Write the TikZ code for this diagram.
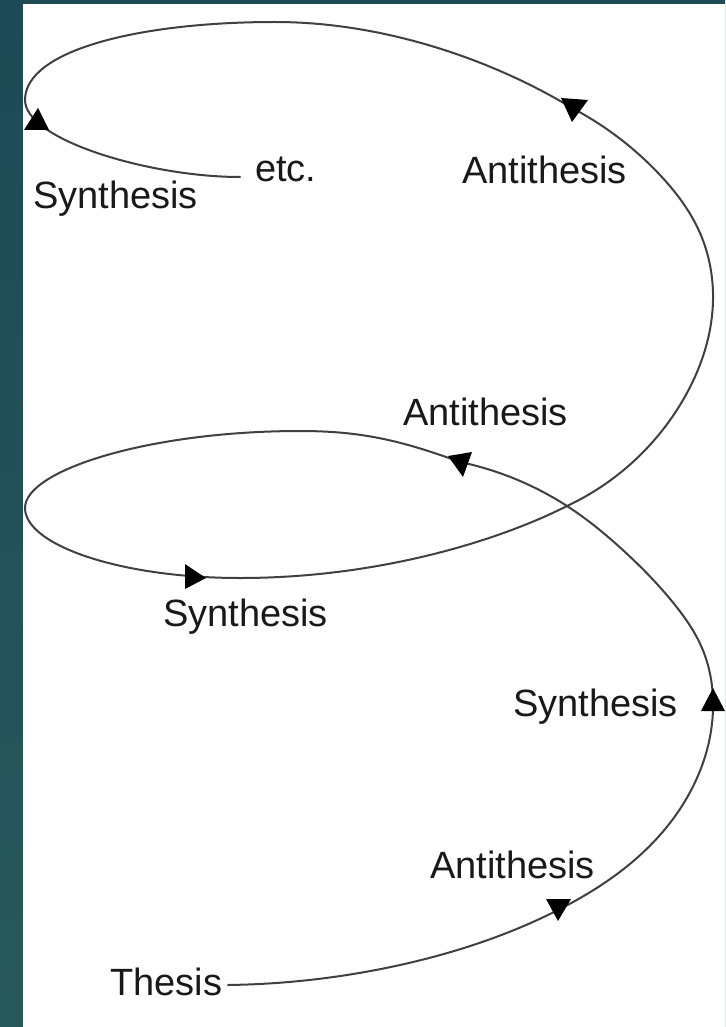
\documentclass[tikz,border=0pt]{standalone}
\usepackage{fontspec}
\setmainfont{Liberation Sans}
\usetikzlibrary{hobby}
\definecolor{bgtop}{HTML}{1E4A55}
\definecolor{bgmid}{HTML}{2E6C67}
\definecolor{bgbot}{HTML}{27585B}
\begin{document}
\begin{tikzpicture}[x=1pt,y=-1pt,
  lbl/.style={anchor=base west,inner sep=0pt,font=\fontsize{38}{44}\selectfont,text=black!90},
  curve/.style={line width=2pt,draw=black!75,line cap=round},
  tip/.style={fill=black}]
\useasboundingbox (0,0) rectangle (725,1027);
\shade[top color=bgtop, middle color=bgmid, bottom color=bgbot] (0,0) rectangle (725,1027);
\fill[white] (23,4) rectangle (725,1027);
% labels
\node[lbl] (etc) at (255,182) {etc.};
\node[lbl] (syn1) at (33,208) {Synthesis};
\node[lbl] (ant1) at (462,184) {Antithesis};
\node[lbl] (ant2) at (403,425) {Antithesis};
\node[lbl] (syn2) at (163,626) {Synthesis};
\node[lbl] (syn3) at (513,716) {Synthesis};
\node[lbl] (ant3) at (430,878) {Antithesis};
\node[lbl] (thesis) at (110,995) {Thesis};
% curve
\coordinate (start) at (228,985);
\coordinate (cross) at (567,506);
\coordinate (midant) at (460,462);
\coordinate (turn) at (572,108);
\coordinate (finish) at (240,177);
\draw[curve,use Hobby shortcut] (start) .. (400,965) .. (558,910) .. (660,835)
 .. (713,700) .. (702,648) .. (675,605) .. (625,552) .. (cross) .. (midant);
\draw[curve] (midant) .. controls (400,440) and (360,431) .. (300,431)
 .. controls (150,431) and (25,470) .. (25,508)
 .. controls (25,545) and (120,578) .. (240,578)
 .. controls (380,578) and (500,540) .. (cross);
\draw[curve,use Hobby shortcut] (cross) .. (683,400) .. (713,300) .. (700,233) .. (660,175) .. (turn);
\draw[curve] (turn) .. controls (500,64) and (390,22) .. (275,22)
 .. controls (140,22) and (25,50) .. (25,100)
 .. controls (25,140) and (150,177) .. (finish);
% arrowheads
\fill[tip] (546,899) -- (571,899) -- (558,921) -- cycle;
\fill[tip] (713,688) -- (701,711) -- (725,711) -- cycle;
\fill[tip] (448,456) -- (472,452) -- (463,477) -- cycle;
\fill[tip] (185,564) -- (185,589) -- (206,578) -- cycle;
\fill[tip] (561,98) -- (588,100) -- (572,122) -- cycle;
\fill[tip] (38,108) -- (24,130) -- (49,130) -- cycle;
\end{tikzpicture}
\end{document}
